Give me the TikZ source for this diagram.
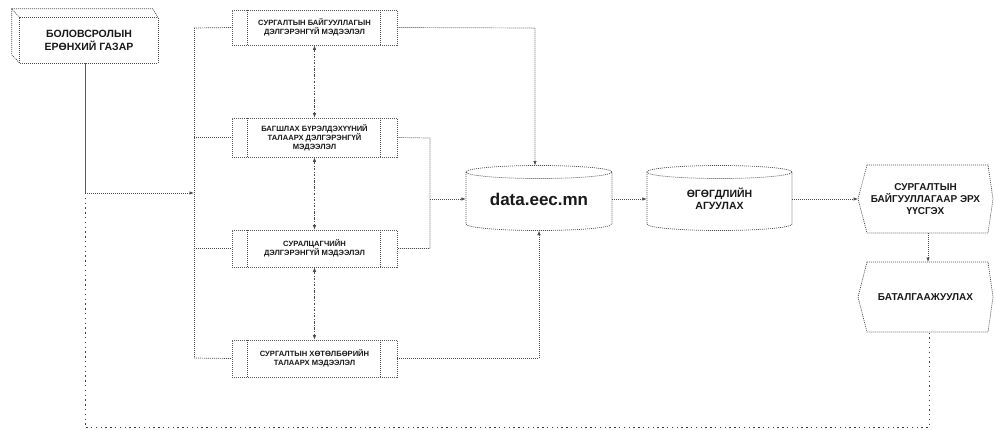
\documentclass[tikz,border=0pt]{standalone}
\usepackage{fontspec}
\setmainfont{Liberation Sans}
\usetikzlibrary{arrows.meta}
\begin{document}
\begin{tikzpicture}[x=1pt,y=-1pt,
  ln/.style={draw=black!70, line width=0.7pt, dash pattern=on 1pt off 1pt},
  solidln/.style={draw=black!65, line width=0.8pt},
  arr/.style={-{Latex[length=4.5pt,width=3.5pt]}},
  dd/.style={draw=black!70, line width=0.7pt, dash pattern=on 2.5pt off 1.5pt on 0.7pt off 1.5pt, {Latex[length=4.5pt,width=3.5pt]}-{Latex[length=4.5pt,width=3.5pt]}},
  fb/.style={draw=black!75, line width=0.9pt, dash pattern=on 1.3pt off 3.5pt},
  txt/.style={align=center, text=black!90, inner sep=0pt},
  proc/.style={txt, draw=black!65, line width=0.7pt, dash pattern=on 1pt off 1pt, minimum width=165pt, font=\bfseries\fontsize{7.6}{9}\selectfont},
  big/.style={txt, font=\bfseries\fontsize{10.5}{12.5}\selectfont},
]
\useasboundingbox (0,0) rectangle (995,429);

% 3D box
\node[big, minimum width=138pt, minimum height=45pt] (gov) at (89,40.5) {БОЛОВСРОЛЫН\\ЕРӨНХИЙ ГАЗАР};
\draw[ln] (gov.north west) rectangle (gov.south east);
\draw[ln] (gov.north west) -- ++(-8,-9) coordinate (bk) -- ++(141,0) -- (gov.north east);
\draw[ln] (bk) -- ++(0,46) -- (gov.south west);

% process boxes
\node[proc, minimum height=35pt] (A) at (314.5,27.5) {СУРГАЛТЫН БАЙГУУЛЛАГЫН\\ДЭЛГЭРЭНГҮЙ МЭДЭЭЛЭЛ};
\node[proc, minimum height=39pt] (B) at (314.5,137.5) {БАГШЛАХ БҮРЭЛДЭХҮҮНИЙ\\ТАЛААРХ ДЭЛГЭРЭНГҮЙ\\МЭДЭЭЛЭЛ};
\node[proc, minimum height=37pt] (C) at (314.5,248.5) {СУРАЛЦАГЧИЙН\\ДЭЛГЭРЭНГҮЙ МЭДЭЭЛЭЛ};
\node[proc, minimum height=37pt] (D) at (314.5,358.5) {СУРГАЛТЫН ХӨТӨЛБӨРИЙН\\ТАЛААРХ МЭДЭЭЛЭЛ};
\foreach \n in {A,B,C,D}{
  \draw[ln] ([xshift=16pt]\n.north west) -- ([xshift=16pt]\n.south west);
  \draw[ln] ([xshift=-17pt]\n.north east) -- ([xshift=-17pt]\n.south east);
}

% cylinders
\node[txt, font=\bfseries\fontsize{17}{20}\selectfont, minimum width=146pt, minimum height=65pt] (db1) at (539,199) {data.eec.mn};
\draw[ln] (539,172) ellipse [x radius=73pt, y radius=6.5pt];
\draw[ln] (466,172) -- (466,224) arc[start angle=180, end angle=360, x radius=73pt, y radius=6.5pt] -- (612,172);
\node[big, minimum width=145pt, minimum height=65pt] (db2) at (719.5,199) {ӨГӨГДЛИЙН\\АГУУЛАХ};
\draw[ln] (719.5,172) ellipse [x radius=72.5pt, y radius=6.5pt];
\draw[ln] (647,172) -- (647,224) arc[start angle=180, end angle=360, x radius=72.5pt, y radius=6.5pt] -- (792,172);

% hexagons
\node[big, font=\bfseries\fontsize{10}{12}\selectfont, minimum width=135pt, minimum height=68pt] (H1) at (925.5,199) {СУРГАЛТЫН\\БАЙГУУЛЛАГААР ЭРХ\\ҮҮСГЭХ};
\draw[ln] (867,165) -- (988,165) -- (993,199) -- (988,233) -- (867,233) -- (858,199) -- cycle;
\node[big, font=\bfseries\fontsize{10}{12}\selectfont, minimum width=135pt, minimum height=70pt] (H2) at (925.5,297) {БАТАЛГААЖУУЛАХ};
\draw[ln] (867,262) -- (988,262) -- (993,297) -- (988,332) -- (867,332) -- (858,297) -- cycle;

% connectors
\coordinate (j) at (85,193);
\coordinate (bt) at (194,28);
\coordinate (bb) at (194,358);
\draw[solidln] (gov.south -| j) -- (j);
\draw[ln, arr] (j) -- (bt |- j);
\draw[ln] (bt) -- (bb);
\draw[ln] (bt) -- (A.west);
\draw[ln] (bt |- B.west) -- (B.west);
\draw[ln] (bt |- C.west) -- (C.west);
\draw[ln] (bb) -- (D.west);

\draw[dd] (A.south) -- (B.north);
\draw[dd] (B.south) -- (C.north);
\draw[dd] (C.south) -- (D.north);

\coordinate (ra) at (535,28);
\draw[ln, arr] (A.east) -- (ra) -- (535,165.5);
\coordinate (rb) at (430,138);
\draw[ln] (B.east) -- (rb) -- (430,248.5) -- (C.east);
\draw[ln, arr] (430,199) -- (db1.west);
\coordinate (rd) at (539,358.5);
\draw[ln, arr] (D.east) -- (rd) -- (539,230.5);

\draw[ln, arr] (db1.east) -- (db2.west);
\draw[ln, arr] (db2.east) -- (858,199);
\draw[ln, arr] (928,233) -- (928,262);

\coordinate (fbl) at (85,427);
\coordinate (fbr) at (929,427);
\draw[fb] (j) -- (fbl) -- (fbr) -- (929,332);
\end{tikzpicture}
\end{document}
